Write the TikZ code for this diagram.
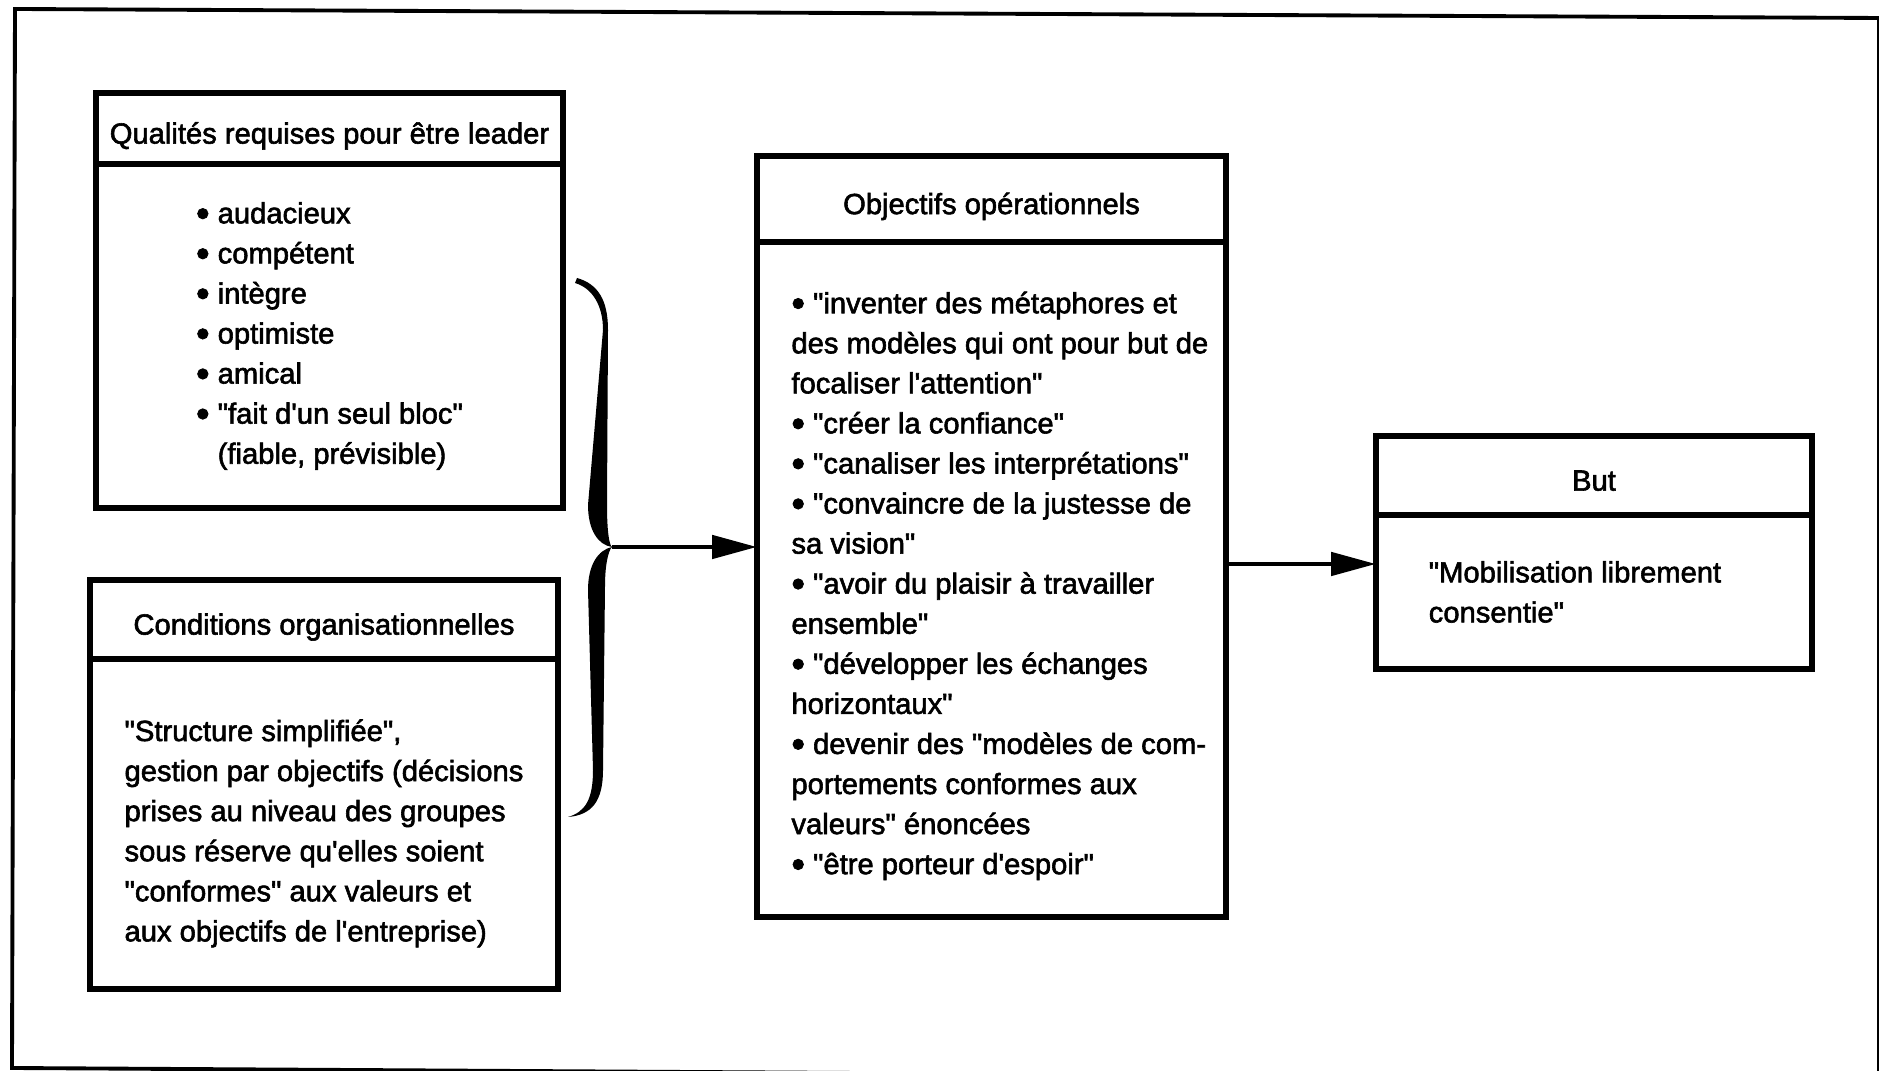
\documentclass[tikz,border=0pt]{standalone}
\usepackage{fontspec}
\setmainfont{Liberation Sans}[Ligatures=TeXOff,FakeBold=2]
\usetikzlibrary{arrows.meta,positioning}
\newcommand\dotmark{\raisebox{-0.9pt}{\fontsize{11}{11}\selectfont•}}

\begin{document}
\begin{tikzpicture}[
  framebox/.style={draw,line width=1.5pt,outer sep=0pt,inner sep=0pt,font=\fontsize{8.3}{11.4}\selectfont},
  titlebox/.style={framebox,minimum height=#1,text height=8.6pt,text depth=0pt},
  textbox/.style={framebox,align=left,minimum height=#1},
  conn/.style={line width=1.4pt,-{Triangle[length=4.5mm,width=2.3mm]}}]
\useasboundingbox (0,0) rectangle (18.79,10.71);
\draw[line width=1.1pt] (0.15,10.62) -- (18.79,10.53) -- (18.79,-0.08) -- (0.12,0.03) -- cycle;

\node[titlebox=0.71cm,minimum width=4.67cm,anchor=north west] (qualh) at (0.96,9.78) {Qualités requises pour être leader};
\node[textbox=3.44cm,minimum width=4.67cm,below=0pt of qualh] (qual) {\dotmark\ audacieux\\\dotmark\ compétent\\\dotmark\ intègre\\\dotmark\ optimiste\\\dotmark\ amical\\\dotmark\ "fait d'un seul bloc"\\\phantom{\dotmark\ }(fiable, prévisible)};

\node[titlebox=0.79cm,minimum width=4.68cm,anchor=north west] (condh) at (0.90,4.91) {Conditions organisationnelles};
\node[textbox=3.30cm,minimum width=4.68cm,below=0pt of condh] (cond) {\rule{0pt}{11.5pt}"Structure simplifiée",\\gestion par objectifs (décisions\\prises au niveau des groupes\\sous réserve qu'elles soient\\"conformes" aux valeurs et\\aux objectifs de l'entreprise)};

\node[titlebox=0.86cm,minimum width=4.69cm,anchor=north west] (objh) at (7.57,9.15) {Objectifs opérationnels};
\node[textbox=6.75cm,minimum width=4.69cm,below=0pt of objh] (obj) {\rule{0pt}{9.8pt}\dotmark\ "inventer des métaphores et\\des modèles qui ont pour but de\kern-0.17cm\\focaliser l'attention"\\\dotmark\ "créer la confiance"\\\dotmark\ "canaliser les interprétations"\\\dotmark\ "convaincre de la justesse de\\sa vision"\\\dotmark\ "avoir du plaisir à travailler\\ensemble"\\\dotmark\ "développer les échanges\\horizontaux"\\\dotmark\ devenir des "modèles de com-\kern-0.17cm\\portements conformes aux\\valeurs" énoncées\\\dotmark\ "être porteur d'espoir"};

\node[titlebox=0.79cm,minimum width=4.36cm,anchor=north west] (buth) at (13.76,6.35) {But};
\node[textbox=1.54cm,minimum width=4.36cm,below=0pt of buth] (but) {"Mobilisation librement\hspace*{0.38cm}\\consentie"};

\fill (5.77,7.93) .. controls (5.98,7.87) and (6.08,7.71) .. (6.08,7.41) -- (6.07,5.66)
  .. controls (6.07,5.41) and (6.09,5.26) .. (6.12,5.24)
  .. controls (5.98,5.26) and (5.88,5.41) .. (5.88,5.66) -- (6.03,7.41)
  .. controls (6.03,7.66) and (5.92,7.83) .. (5.75,7.88) -- cycle;
\fill (6.12,5.24) .. controls (5.98,5.21) and (5.88,5.06) .. (5.88,4.81) -- (5.93,3.01)
  .. controls (5.93,2.71) and (5.85,2.59) .. (5.68,2.54)
  .. controls (5.92,2.56) and (6.03,2.70) .. (6.03,3.01) -- (6.05,4.85)
  .. controls (6.05,5.05) and (6.08,5.20) .. (6.12,5.24) -- cycle;

\coordinate (tip) at (6.12,5.24);
\coordinate (aim) at ([yshift=2.8mm]but.west);
\draw[conn] (tip) -- (tip -| obj.west);
\draw[conn] (obj.east |- aim) -- (aim);
\end{tikzpicture}
\end{document}
